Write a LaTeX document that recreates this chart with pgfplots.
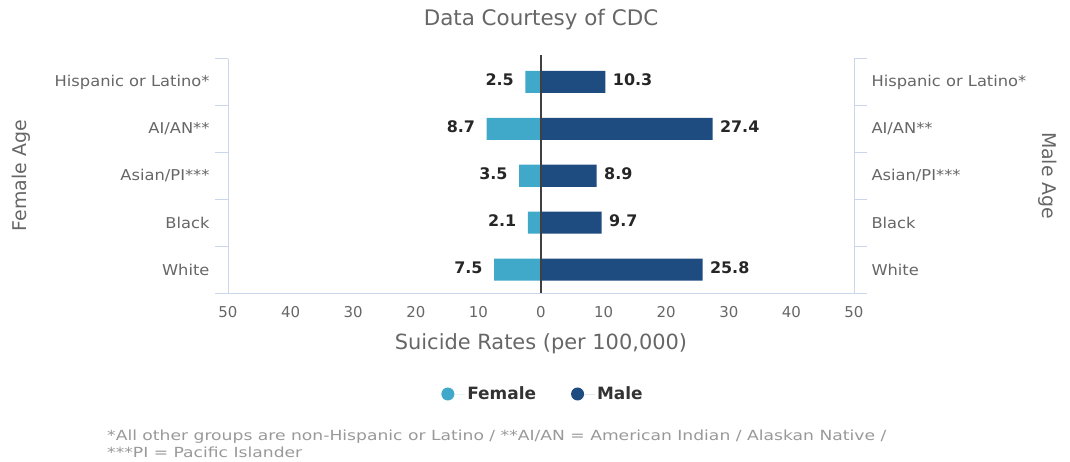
\documentclass[border=0pt]{standalone}
\usepackage{pgfplots}
\pgfplotsset{compat=1.18}
\usepackage{fontspec}
\setmainfont{DejaVu Sans}
\newfontfamily\footfont[FakeStretch=1.23]{DejaVu Sans}
\newfontfamily\catfont[FakeStretch=1.09]{DejaVu Sans}
\definecolor{fem}{HTML}{40A8C8}
\definecolor{mal}{HTML}{1E4B80}
\definecolor{txt}{HTML}{666666}
\definecolor{axl}{HTML}{CCD6EB}
\definecolor{foot}{HTML}{999999}
\begin{document}
\begin{tikzpicture}
\path[use as bounding box] (0bp,0bp) rectangle (1070bp,462bp);
\begin{axis}[
 at={(228bp,169bp)}, anchor=south west,
 width=626bp, height=234.5bp, scale only axis,
 xmin=-50, xmax=50, ymin=-0.5, ymax=4.5,
 clip=false,
 xbar, bar width=22bp, bar shift=0pt,
 axis line style={draw=none},
 /pgf/number format/assume math mode=true,
 xtick={-50,-40,...,50},
 xticklabels={50,40,30,20,10,0,10,20,30,40,50},
 ytick={0,1,2,3,4},
 yticklabels={White,Black,Asian/PI***,AI/AN**,Hispanic or Latino*},
 minor ytick={-0.5,0.5,1.5,2.5,3.5,4.5},
 minor xtick={},
 major tick length=0pt,
 minor tick length=13bp,
 tick align=outside,
 minor tick style={axl, line width=0.8bp},
 ticklabel style={font=\fontsize{15}{18}\selectfont, text=txt},
 xticklabel style={yshift=-10bp},
 yticklabel style={xshift=-15bp, font=\catfont\fontsize{15}{18}\selectfont},
 title={Data Courtesy of CDC},
 every axis title/.style={at={(rel axis cs:0.5,1)}, anchor=center, yshift=39bp, font=\fontsize{21.5}{24}\selectfont, text=txt},
 xlabel={Suicide Rates (per 100,000)},
 every axis x label/.style={at={(rel axis cs:0.5,0)}, anchor=center, yshift=-51bp, font=\fontsize{21}{24}\selectfont, text=txt},
 ylabel={Female Age},
 every axis y label/.style={at={(rel axis cs:0,0.5)}, anchor=center, xshift=-207bp, rotate=90, font=\fontsize{19}{22}\selectfont, text=txt},
 legend columns=2,
 legend style={at={(0.5,0)}, anchor=center, yshift=-101bp, xshift=2bp, draw=none, fill=none,
   font=\bfseries\fontsize{17}{19}\selectfont, text=black!80,
   /tikz/every even column/.append style={column sep=33bp}},
 legend image code/.code={\fill[#1] (6.5bp,0bp) circle (6.5bp); \path (0bp,0bp) -- (24bp,0bp);},
]
\addplot[fill=fem, draw=none, nodes near coords, point meta=explicit symbolic,
  every node near coord/.append style={anchor=east, xshift=-8bp, yshift=2bp, font=\bfseries\fontsize{16}{18}\selectfont, text=black!85}]
  coordinates {(-2.5,4) [2.5] (-8.7,3) [8.7] (-3.5,2) [3.5] (-2.1,1) [2.1] (-7.5,0) [7.5]};
\addlegendentry{Female}
\addplot[fill=mal, draw=none, nodes near coords, point meta=explicit symbolic,
  every node near coord/.append style={anchor=west, xshift=4bp, yshift=2bp, font=\bfseries\fontsize{16}{18}\selectfont, text=black!85}]
  coordinates {(10.3,4) [10.3] (27.4,3) [27.4] (8.9,2) [8.9] (9.7,1) [9.7] (25.8,0) [25.8]};
\addlegendentry{Male}
\draw[axl, line width=0.8bp] (rel axis cs:0,0) -- (rel axis cs:0,1);
\draw[axl, line width=0.8bp] (rel axis cs:1,0) -- (rel axis cs:1,1);
\draw[axl, line width=0.8bp] (rel axis cs:0,0) -- (rel axis cs:1,0);
\draw[black!75, line width=1.2bp] (axis cs:0,-0.5) -- (axis cs:0,4.57);
\end{axis}
\begin{axis}[
 at={(228bp,169bp)}, anchor=south west,
 width=626bp, height=234.5bp, scale only axis,
 xmin=-50, xmax=50, ymin=-0.5, ymax=4.5,
 axis line style={draw=none},
 xtick=\empty,
 ytick={0,1,2,3,4},
 yticklabels={White,Black,Asian/PI***,AI/AN**,Hispanic or Latino*},
 yticklabel pos=right,
 major tick length=0pt,
 ticklabel style={font=\catfont\fontsize{15}{18}\selectfont, text=txt},
 yticklabel style={xshift=14bp},
 ylabel={Male Age},
 every axis y label/.style={at={(rel axis cs:1,0.5)}, anchor=center, xshift=194bp, rotate=-90, font=\fontsize{19}{22}\selectfont, text=txt},
]
\end{axis}
\node[anchor=base west, text=foot, font=\footfont\fontsize{14}{16}\selectfont, inner sep=0pt] at (107bp,22bp) {*All other groups are non-Hispanic or Latino / **AI/AN = American Indian / Alaskan Native /};
\node[anchor=base west, text=foot, font=\footfont\fontsize{14}{16}\selectfont, inner sep=0pt] at (107bp,5bp) {***PI = Pacific Islander};
\end{tikzpicture}
\end{document}
